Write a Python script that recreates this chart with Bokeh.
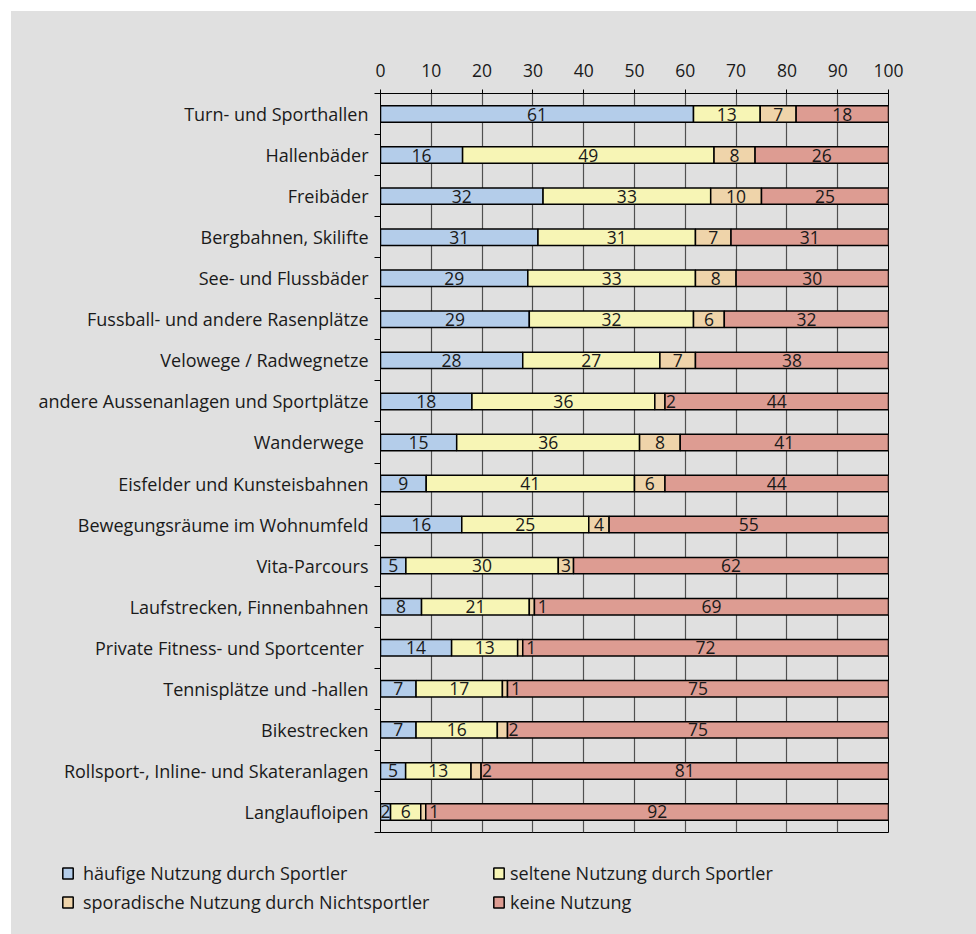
from bokeh.plotting import figure
from bokeh.models import Range1d, FixedTicker, Legend, LegendItem, ColumnDataSource, Spacer
from bokeh.layouts import column, row
from bokeh.core.properties import value
from bokeh.embed import file_html
from bokeh.resources import INLINE

categories = [
    "Turn- und Sporthallen",
    "Hallenbäder",
    "Freibäder",
    "Bergbahnen, Skilifte",
    "See- und Flussbäder",
    "Fussball- und andere Rasenplätze",
    "Velowege / Radwegnetze",
    "andere Aussenanlagen und Sportplätze",
    "Wanderwege ",
    "Eisfelder und Kunsteisbahnen",
    "Bewegungsräume im Wohnumfeld",
    "Vita-Parcours",
    "Laufstrecken, Finnenbahnen",
    "Private Fitness- und Sportcenter ",
    "Tennisplätze und -hallen",
    "Bikestrecken",
    "Rollsport-, Inline- und Skateranlagen",
    "Langlaufloipen",
]
haeufig = [61, 16, 32, 31, 29, 29, 28, 18, 15, 9, 16, 5, 8, 14, 7, 7, 5, 2]
selten = [13, 49, 33, 31, 33, 32, 27, 36, 36, 41, 25, 30, 21, 13, 17, 16, 13, 6]
sporadisch = [7, 8, 10, 7, 8, 6, 7, 2, 8, 6, 4, 3, 1, 1, 1, 2, 2, 1]
keine = [18, 26, 25, 31, 30, 32, 38, 44, 41, 44, 55, 62, 69, 72, 75, 75, 81, 92]

series_names = [
    "häufige Nutzung durch Sportler",
    "seltene Nutzung durch Sportler",
    "sporadische Nutzung durch Nichtsportler",
    "keine Nutzung",
]
colors = ["#b4cdea", "#f7f5b5", "#efd4aa", "#dd9c92"]
x_ticks = [0, 10, 20, 30, 40, 50, 60, 70, 80, 90, 100]

FONT = "Open Sans"
FS = "17.5px"
FS_CAT = "18px"
BG = "#e0e0e0"
TXT = "#1a1a1a"

series = [haeufig, selten, sporadisch, keine]
n = len(categories)
ys = list(range(n))
totals = [sum(s[i] for s in series) for i in range(n)]

p = figure(
    width=965, height=831,
    x_range=Range1d(0, 100), y_range=Range1d(n - 0.5, -0.5),
    x_axis_location="above",
    output_backend="svg", toolbar_location=None,
    min_border_left=369, min_border_right=88,
    min_border_top=82, min_border_bottom=10,
)
p.frame_align = False
p.background_fill_color = BG
p.border_fill_color = BG
p.outline_line_color = "black"
p.outline_line_width = 1

lx, ly, lt, ldx = [], [], [], []
cum = [0.0] * n
for k, s in enumerate(series):
    left = list(cum)
    right = [cum[i] + s[i] * 100.0 / totals[i] for i in range(n)]
    src = ColumnDataSource(dict(y=ys, left=left, right=right))
    p.hbar(y="y", left="left", right="right", height=0.4, source=src,
           fill_color=colors[k], line_color="black", line_width=1.5)
    for i in range(n):
        lx.append((left[i] + right[i]) / 2.0)
        ly.append(ys[i])
        lt.append(str(s[i]))
        ldx.append(11 if (k == 2 and s[i] <= 2) else 0)
    cum = right

p.text(x=lx, y=ly, text=lt, x_offset=ldx,
       text_font=value(FONT), text_font_size=FS,
       text_align="center", text_baseline="middle", text_color=TXT)

# grid
p.ygrid.visible = False
p.xgrid.ticker = FixedTicker(ticks=x_ticks)
p.xgrid.grid_line_color = "#505050"
p.xgrid.grid_line_width = 1.2

# top axis
xa = p.xaxis[0]
xa.ticker = FixedTicker(ticks=x_ticks)
xa.major_tick_in = 0
xa.major_tick_out = 4
xa.minor_tick_out = 0
xa.minor_tick_in = 0
xa.axis_line_color = "black"
xa.major_tick_line_color = "black"
xa.major_label_standoff = 13
xa.major_label_text_font = FONT
xa.major_label_text_font_size = FS
xa.major_label_text_color = TXT

# left axis
ya = p.yaxis[0]
ya.ticker = FixedTicker(ticks=ys, minor_ticks=[i - 0.5 for i in range(n + 1)])
ya.major_tick_in = 0
ya.major_tick_out = 0
ya.minor_tick_in = 0
ya.minor_tick_out = 6
ya.minor_tick_line_color = "black"
ya.axis_line_color = "black"
ya.major_label_overrides = {i: categories[i] for i in ys}
ya.major_label_standoff = 6
ya.major_label_text_font = FONT
ya.major_label_text_font_size = FS_CAT
ya.major_label_text_color = TXT

# legend panel (separate figure below the chart)
pl = figure(
    width=965, height=92,
    x_range=Range1d(0, 1), y_range=Range1d(0, 1),
    x_axis_location=None, y_axis_location=None,
    output_backend="svg", toolbar_location=None,
    min_border=0, min_border_left=0, min_border_right=0,
    min_border_top=0, min_border_bottom=0,
)
pl.frame_align = False
pl.background_fill_color = BG
pl.border_fill_color = BG
pl.outline_line_color = None
pl.grid.visible = False

# legend-only renderers: their single row lies outside the (0..1) ranges
leg_renderers = []
for k in range(4):
    src = ColumnDataSource(dict(y=[-10.0], left=[10.0], right=[11.0]))
    r = pl.hbar(y="y", left="left", right="right", height=0.4, source=src,
                fill_color=colors[k], line_color="black", line_width=1.5)
    leg_renderers.append(r)


def make_legend(idx, x, y, standoff):
    lg = Legend(
        items=[LegendItem(label=series_names[j], renderers=[leg_renderers[j]]) for j in idx],
        location=(x, y), orientation="vertical",
        glyph_width=13, glyph_height=14, label_height=24, spacing=5,
        label_standoff=standoff, padding=0, margin=0,
        background_fill_alpha=0, border_line_alpha=0,
        label_text_font=FONT, label_text_font_size=FS_CAT, label_text_color=TXT,
        label_text_baseline="middle",
    )
    pl.add_layout(lg, "center")


make_legend([0, 2], 50, 20, 9)
make_legend([1, 3], 481, 20, 5)

inner = column(p, pl, spacing=0, styles={"background-color": BG})
layout = column(Spacer(height=11), row(Spacer(width=11), inner), spacing=0)

open("out.html", "w").write(file_html(layout, INLINE))
